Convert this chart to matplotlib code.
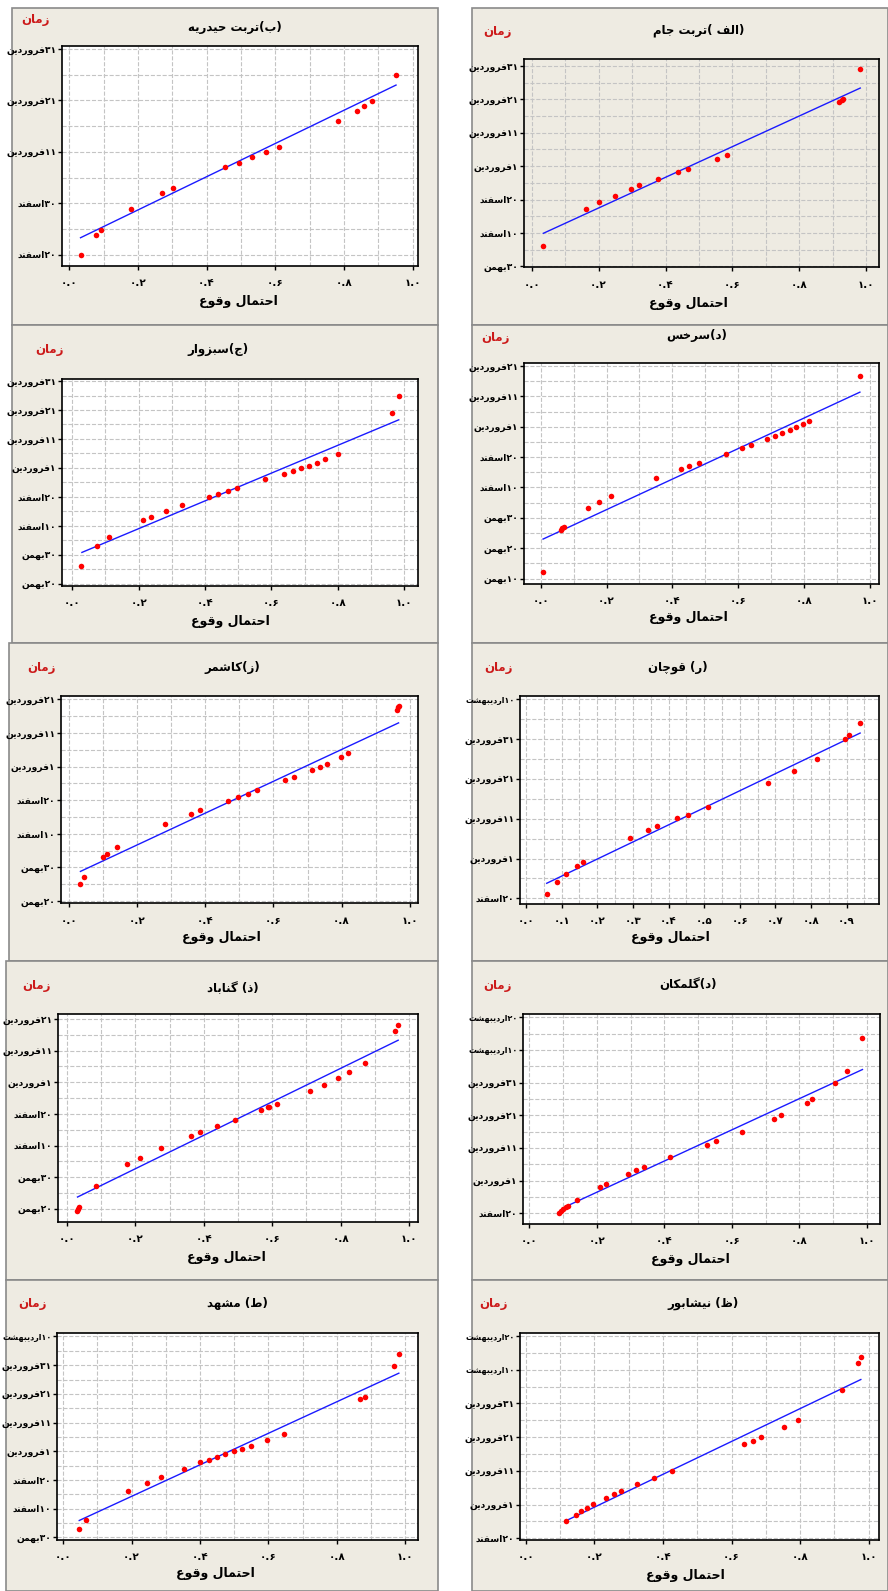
import matplotlib
matplotlib.use('Agg')
import matplotlib.pyplot as plt
from matplotlib import font_manager
from matplotlib.ft2font import FT2Font
from matplotlib.patches import Rectangle

# ---- data: x = احتمال وقوع, y = روز نسبت به ۱ فروردین ----
jam_x = [0.035, 0.161, 0.201, 0.248, 0.296, 0.322, 0.378, 0.436, 0.467, 0.555, 0.584, 0.918, 0.926, 0.931, 0.982]
jam_y = [-23.8, -12.8, -10.8, -8.8, -6.8, -5.7, -3.7, -1.7, -0.8, 2.0, 3.2, 19.2, 19.8, 20.1, 29.1]
jam_fit_x = [0.035, 0.982]
jam_fit_y = [-20.1, 23.4]

heydarieh_x = [0.033, 0.079, 0.094, 0.179, 0.269, 0.301, 0.453, 0.494, 0.533, 0.572, 0.612, 0.784, 0.839, 0.860, 0.883, 0.952]
heydarieh_y = [-10.1, -6.1, -5.1, -1.1, 2.0, 2.9, 7.0, 7.9, 9.0, 10.0, 11.0, 16.0, 18.0, 19.0, 19.9, 25.0]
heydarieh_fit_x = [0.033, 0.952]
heydarieh_fit_y = [-6.7, 23.0]

sarakhs_x = [0.007, 0.060, 0.065, 0.070, 0.144, 0.176, 0.214, 0.350, 0.426, 0.452, 0.480, 0.562, 0.613,
             0.638, 0.688, 0.711, 0.733, 0.756, 0.776, 0.796, 0.815, 0.970]
sarakhs_y = [-47.8, -34.0, -33.3, -32.9, -26.9, -24.9, -22.8, -17.0, -13.8, -13.0, -12.0, -9.0, -6.9,
             -6.1, -4.1, -3.1, -2.0, -1.0, 0.0, 1.0, 1.9, 16.8]
sarakhs_fit_x = [0.007, 0.970]
sarakhs_fit_y = [-37.0, 11.4]

sabzevar_x = [0.027, 0.074, 0.110, 0.214, 0.236, 0.281, 0.332, 0.413, 0.440, 0.469, 0.497, 0.581, 0.637,
              0.664, 0.689, 0.714, 0.738, 0.761, 0.801, 0.965, 0.985]
sabzevar_y = [-33.8, -27.0, -23.9, -18.0, -17.0, -15.0, -12.9, -9.9, -9.1, -8.1, -7.0, -4.0, -2.0,
              -1.0, -0.2, 0.8, 1.8, 2.9, 4.8, 18.9, 24.8]
sabzevar_fit_x = [0.029, 0.984]
sabzevar_fit_y = [-29.2, 16.6]

quchan_x = [0.058, 0.087, 0.112, 0.143, 0.160, 0.291, 0.341, 0.368, 0.425, 0.455, 0.511, 0.679, 0.753,
            0.816, 0.895, 0.908, 0.938]
quchan_y = [-8.8, -5.8, -3.8, -1.8, -0.8, 5.1, 7.1, 8.1, 10.1, 11.0, 13.0, 19.0, 22.1, 25.1, 30.1, 31.1, 34.0]
quchan_fit_x = [0.058, 0.938]
quchan_fit_y = [-6.2, 31.5]

kashmar_x = [0.032, 0.044, 0.099, 0.111, 0.142, 0.283, 0.359, 0.385, 0.468, 0.497, 0.525, 0.553, 0.634,
             0.661, 0.712, 0.736, 0.758, 0.799, 0.819, 0.963, 0.966, 0.969]
kashmar_y = [-34.8, -32.8, -26.9, -26.0, -23.9, -17.0, -14.1, -13.0, -10.1, -9.0, -8.1, -7.0, -4.0,
             -3.2, -1.1, -0.1, 0.8, 2.9, 4.0, 16.8, 17.6, 18.0]
kashmar_fit_x = [0.034, 0.967]
kashmar_fit_y = [-31.2, 13.0]

golmakan_x = [0.089, 0.095, 0.101, 0.107, 0.113, 0.141, 0.209, 0.228, 0.293, 0.317, 0.341, 0.416, 0.525,
              0.552, 0.629, 0.724, 0.746, 0.823, 0.838, 0.907, 0.942, 0.987]
golmakan_y = [-10.0, -9.3, -8.7, -8.2, -7.8, -5.8, -1.9, -0.9, 2.0, 3.1, 4.1, 7.1, 10.9,
              12.1, 14.9, 18.8, 20.0, 23.9, 24.9, 29.9, 33.7, 43.7]
golmakan_fit_x = [0.107, 0.987]
golmakan_fit_y = [-8.0, 34.0]

gonabad_x = [0.029, 0.032, 0.035, 0.086, 0.177, 0.213, 0.274, 0.364, 0.389, 0.439, 0.490, 0.567, 0.589,
             0.592, 0.614, 0.709, 0.751, 0.791, 0.824, 0.871, 0.960, 0.969]
gonabad_y = [-40.8, -40.1, -39.6, -32.7, -25.8, -23.9, -20.8, -16.9, -15.7, -13.9, -11.8, -8.7, -7.8,
             -7.9, -6.8, -2.7, -0.8, 1.3, 3.1, 6.1, 16.1, 18.2]
gonabad_fit_x = [0.031, 0.968]
gonabad_fit_y = [-36.3, 13.3]

neyshabur_x = [0.117, 0.145, 0.160, 0.177, 0.195, 0.234, 0.256, 0.279, 0.325, 0.374, 0.427, 0.637, 0.663,
               0.687, 0.754, 0.794, 0.921, 0.970, 0.978]
neyshabur_y = [-5.0, -3.0, -1.9, -1.0, 0.1, 2.1, 3.2, 4.1, 6.0, 7.9, 9.9, 18.0, 18.9,
               20.0, 23.1, 25.0, 34.1, 41.9, 43.9]
neyshabur_fit_x = [0.117, 0.977]
neyshabur_fit_y = [-4.8, 37.1]

mashhad_x = [0.046, 0.066, 0.190, 0.244, 0.287, 0.352, 0.400, 0.426, 0.449, 0.473, 0.498, 0.524, 0.548,
             0.596, 0.645, 0.867, 0.881, 0.966, 0.981]
mashhad_y = [-27.0, -23.8, -13.9, -10.9, -9.1, -6.0, -3.9, -2.9, -1.9, -0.8, 0.1, 0.9, 2.0,
             3.9, 6.0, 18.1, 19.0, 29.7, 33.8]
mashhad_fit_x = [0.047, 0.981]
mashhad_fit_y = [-24.1, 27.2]

# ---- tick labels ----
lab_a = ['۳۰بهمن', '۱۰اسفند', '۲۰اسفند', '۱فروردین', '۱۱فروردین', '۲۱فروردین', '۳۱فروردین']
lab_b = ['۲۰اسفند', '۳۰اسفند', '۱۱فروردین', '۲۱فروردین', '۳۱فروردین']
lab_c = ['۱۰بهمن', '۲۰بهمن', '۳۰بهمن', '۱۰اسفند', '۲۰اسفند', '۱فروردین', '۱۱فروردین', '۲۱فروردین']
lab_d = ['۲۰بهمن', '۳۰بهمن', '۱۰اسفند', '۲۰اسفند', '۱فروردین', '۱۱فروردین', '۲۱فروردین', '۳۱فروردین']
lab_e = ['۲۰اسفند', '۱فروردین', '۱۱فروردین', '۲۱فروردین', '۳۱فروردین', '۱۰اردیبهشت']
lab_f = ['۲۰بهمن', '۳۰بهمن', '۱۰اسفند', '۲۰اسفند', '۱فروردین', '۱۱فروردین', '۲۱فروردین']
lab_g = ['۲۰اسفند', '۱فروردین', '۱۱فروردین', '۲۱فروردین', '۳۱فروردین', '۱۰اردیبهشت', '۲۰اردیبهشت']
lab_h = ['۳۰بهمن', '۱۰اسفند', '۲۰اسفند', '۱فروردین', '۱۱فروردین', '۲۱فروردین', '۳۱فروردین', '۱۰اردیبهشت']

xt_02 = [0.0, 0.2, 0.4, 0.6, 0.8, 1.0]
xl_02 = ['۰.۰', '۰.۲', '۰.۴', '۰.۶', '۰.۸', '۱.۰']
xt_01 = [0.0, 0.1, 0.2, 0.3, 0.4, 0.5, 0.6, 0.7, 0.8, 0.9]
xl_01 = ['۰.۰', '۰.۱', '۰.۲', '۰.۳', '۰.۴', '۰.۵', '۰.۶', '۰.۷', '۰.۸', '۰.۹']

y_label = 'زمان'
x_label = 'احتمال وقوع'

# ---- simple Persian shaping (matplotlib has no Arabic shaping) ----
FORMS = {
    'ا': ['FE8D', 'FE8E', None, None], 'ب': ['FE8F', 'FE90', 'FE91', 'FE92'],
    'ت': ['FE95', 'FE96', 'FE97', 'FE98'], 'ج': ['FE9D', 'FE9E', 'FE9F', 'FEA0'],
    'چ': ['FB7A', 'FB7B', 'FB7C', 'FB7D'], 'ح': ['FEA1', 'FEA2', 'FEA3', 'FEA4'],
    'خ': ['FEA5', 'FEA6', 'FEA7', 'FEA8'], 'د': ['FEA9', 'FEAA', None, None],
    'ذ': ['FEAB', 'FEAC', None, None], 'ر': ['FEAD', 'FEAE', None, None],
    'ز': ['FEAF', 'FEB0', None, None], 'س': ['FEB1', 'FEB2', 'FEB3', 'FEB4'],
    'ش': ['FEB5', 'FEB6', 'FEB7', 'FEB8'], 'ط': ['FEC1', 'FEC2', 'FEC3', 'FEC4'],
    'ظ': ['FEC5', 'FEC6', 'FEC7', 'FEC8'], 'ع': ['FEC9', 'FECA', 'FECB', 'FECC'],
    'ف': ['FED1', 'FED2', 'FED3', 'FED4'], 'ق': ['FED5', 'FED6', 'FED7', 'FED8'],
    'ک': ['FB8E', 'FB8F', 'FB90', 'FB91'], 'گ': ['FB92', 'FB93', 'FB94', 'FB95'],
    'ل': ['FEDD', 'FEDE', 'FEDF', 'FEE0'], 'م': ['FEE1', 'FEE2', 'FEE3', 'FEE4'],
    'ن': ['FEE5', 'FEE6', 'FEE7', 'FEE8'], 'ه': ['FEE9', 'FEEA', 'FEEB', 'FEEC'],
    'و': ['FEED', 'FEEE', None, None], 'ی': ['FBFC', 'FBFD', 'FBFE', 'FBFF'],
}
FALLBACK = {'چ': ['FE9D', 'FE9E', 'FE9F', 'FEA0'], 'ک': ['FED9', 'FEDA', 'FEDB', 'FEDC'],
            'گ': ['FED9', 'FEDA', 'FEDB', 'FEDC'], 'ی': ['FEEF', 'FEF0', 'FEF3', 'FEF4']}

WEIGHT = 'bold'
path = font_manager.findfont(font_manager.FontProperties(family='DejaVu Sans', weight='bold'))
cmap = FT2Font(path).get_charmap()
if 0xFED3 not in cmap:
    WEIGHT = 'normal'
    path = font_manager.findfont(font_manager.FontProperties(family='DejaVu Sans'))
    cmap = FT2Font(path).get_charmap()
for k, v in FALLBACK.items():
    if any(int(c, 16) not in cmap for c in FORMS[k]):
        FORMS[k] = v
DIGITS = '۰۱۲۳۴۵۶۷۸۹'
if ord('۰') not in cmap:
    DIGITS = '٠١٢٣٤٥٦٧٨٩' if 0x0660 in cmap else '0123456789'


def fa(s):
    s = ''.join(DIGITS['۰۱۲۳۴۵۶۷۸۹'.index(c)] if c in '۰۱۲۳۴۵۶۷۸۹' else c for c in s)
    out = []
    for i, c in enumerate(s):
        if c not in FORMS:
            out.append(c)
            continue
        prev = s[i - 1] if i > 0 else None
        nxt = s[i + 1] if i + 1 < len(s) else None
        jp = prev in FORMS and FORMS[prev][2] is not None
        jn = FORMS[c][2] is not None and nxt in FORMS
        f = FORMS[c]
        code = f[3] if (jp and jn) else f[1] if jp else f[2] if jn else f[0]
        out.append(chr(int(code, 16)))
    tokens = []
    for c in out:
        isnum = c in DIGITS or c == '.'
        if isnum and tokens and (tokens[-1][0] in DIGITS):
            tokens[-1] += c
        else:
            tokens.append(c)
    mirror = {'(': ')', ')': '('}
    return ''.join(mirror.get(t, t) for t in reversed(tokens))


# ---- layout (pixels) ----
W, H = 888, 1591
BEIGE = '#eeebe2'
panels = [
    dict(title='(الف )تربت جام', x=jam_x, y=jam_y, fx=jam_fit_x, fy=jam_fit_y, yt=range(-30, 31, 10), yl=lab_a,
         xt=xt_02, xl=xl_02, frame=(472, 888, 8, 325), box=(524, 879, 59, 267), xlim=(-0.023, 1.038),
         ylim=(-30.2, 32.1), tpos=(699, 30), zpos=(497, 32), lpos=(688, 303), face=BEIGE),
    dict(title='(ب)تربت حیدریه', x=heydarieh_x, y=heydarieh_y, fx=heydarieh_fit_x, fy=heydarieh_fit_y,
         yt=range(-10, 31, 10), yl=lab_b, xt=xt_02, xl=xl_02, frame=(12, 438, 8, 325), box=(62, 418, 46, 266),
         xlim=(-0.021, 1.016), ylim=(-12.2, 30.6), tpos=(235, 27), zpos=(35, 19), lpos=(238, 301), face='white'),
    dict(title='(د)سرخس', x=sarakhs_x, y=sarakhs_y, fx=sarakhs_fit_x, fy=sarakhs_fit_y, yt=range(-50, 21, 10),
         yl=lab_c, xt=xt_02, xl=xl_02, frame=(472, 888, 325, 643), box=(524, 879, 363, 584),
         xlim=(-0.051, 1.028), ylim=(-51.8, 21.0), tpos=(697, 335), zpos=(496, 337), lpos=(688, 618), face='white'),
    dict(title='(ج)سبزوار', x=sabzevar_x, y=sabzevar_y, fx=sabzevar_fit_x, fy=sabzevar_fit_y,
         yt=range(-40, 31, 10), yl=lab_d, xt=xt_02, xl=xl_02, frame=(12, 438, 325, 643), box=(62, 418, 379, 586),
         xlim=(-0.031, 1.042), ylim=(-40.8, 30.7), tpos=(218, 349), zpos=(49, 350), lpos=(230, 621), face='white'),
    dict(title='(ر) قوچان', x=quchan_x, y=quchan_y, fx=quchan_fit_x, fy=quchan_fit_y, yt=range(-10, 41, 10),
         yl=lab_e, xt=xt_01, xl=xl_01, frame=(472, 888, 643, 961), box=(520, 879, 696, 904),
         xlim=(-0.017, 0.991), ylim=(-11.4, 40.8), tpos=(678, 667), zpos=(498, 668), lpos=(670, 938), face='white'),
    dict(title='(ز)کاشمر', x=kashmar_x, y=kashmar_y, fx=kashmar_fit_x, fy=kashmar_fit_y, yt=range(-40, 21, 10),
         yl=lab_f, xt=xt_02, xl=xl_02, frame=(9, 438, 643, 961), box=(61, 418, 696, 903),
         xlim=(-0.023, 1.024), ylim=(-40.6, 21.0), tpos=(232, 667), zpos=(41, 668), lpos=(221, 938), face='white'),
    dict(title='(د)گلمکان', x=golmakan_x, y=golmakan_y, fx=golmakan_fit_x, fy=golmakan_fit_y,
         yt=range(-10, 51, 10), yl=lab_g, xt=xt_02, xl=xl_02, frame=(472, 888, 961, 1280), box=(523, 880, 1014, 1224),
         xlim=(-0.019, 1.039), ylim=(-13.3, 51.0), tpos=(688, 984), zpos=(497, 986), lpos=(690, 1260), face='white'),
    dict(title='(ذ) گناباد', x=gonabad_x, y=gonabad_y, fx=gonabad_fit_x, fy=gonabad_fit_y, yt=range(-40, 21, 10),
         yl=lab_f, xt=xt_02, xl=xl_02, frame=(6, 438, 961, 1280), box=(58, 418, 1014, 1222),
         xlim=(-0.026, 1.026), ylim=(-44.2, 21.6), tpos=(233, 989), zpos=(36, 986), lpos=(226, 1258), face='white'),
    dict(title='(ظ) نیشابور', x=neyshabur_x, y=neyshabur_y, fx=neyshabur_fit_x, fy=neyshabur_fit_y,
         yt=range(-10, 51, 10), yl=lab_g, xt=xt_02, xl=xl_02, frame=(472, 888, 1280, 1591), box=(520, 879, 1333, 1540),
         xlim=(-0.017, 1.030), ylim=(-10.5, 50.9), tpos=(703, 1303), zpos=(493, 1304), lpos=(685, 1575), face='white'),
    dict(title='(ط) مشهد', x=mashhad_x, y=mashhad_y, fx=mashhad_fit_x, fy=mashhad_fit_y, yt=range(-30, 41, 10),
         yl=lab_h, xt=xt_02, xl=xl_02, frame=(6, 438, 1280, 1591), box=(57, 418, 1333, 1540),
         xlim=(-0.018, 1.037), ylim=(-30.9, 41.2), tpos=(237, 1303), zpos=(32, 1304), lpos=(215, 1574), face='white'),
]

plt.rcParams['font.family'] = ['DejaVu Sans']
fig = plt.figure(figsize=(W / 100, H / 100), dpi=100)
fig.patch.set_facecolor('white')

for p in panels:
    x0, x1, y0, y1 = p['frame']
    fig.add_artist(Rectangle((x0 / W, 1 - y1 / H), (x1 - x0) / W, (y1 - y0) / H, transform=fig.transFigure,
                             facecolor=BEIGE, edgecolor='#8a8a8a', lw=1.2, zorder=-5))
    l, r, t, b = p['box']
    ax = fig.add_axes([l / W, 1 - b / H, (r - l) / W, (b - t) / H])
    ax.set_facecolor(p['face'])

    step = p['xt'][1] - p['xt'][0]
    minor_x = [v + step / 2 for v in p['xt']]
    yt = list(p['yt'])
    minor_y = [v + 5 for v in yt]
    ax.set_xticks(p['xt'])
    ax.set_xticks(minor_x, minor=True)
    ax.set_yticks(yt)
    ax.set_yticks(minor_y, minor=True)
    ax.set_xticklabels([fa(s) for s in p['xl']], fontsize=7.5, fontweight=WEIGHT)
    ax.set_yticklabels([fa(s) for s in p['yl']], fontsize=6.6, fontweight=WEIGHT)
    for lab, raw in zip(ax.get_yticklabels(), p['yl']):
        if 'اردیبهشت' in raw:
            lab.set_fontsize(5.8)
    ax.tick_params(which='major', direction='out', length=3, width=1, pad=1)
    ax.tick_params(axis='x', which='major', pad=6)
    ax.tick_params(which='minor', length=0)
    ax.grid(which='both', ls='--', color='#c4c4c4', lw=0.8)
    ax.set_axisbelow(True)
    for s in ax.spines.values():
        s.set_linewidth(1.2)
        s.set_color('black')

    ax.plot(p['fx'], p['fy'], color='#1a1aff', lw=1.0, zorder=3)
    ax.scatter(p['x'], p['y'], s=16, color='#ff0000', lw=0, zorder=4)
    ax.set_xlim(*p['xlim'])
    ax.set_ylim(*p['ylim'])

    fig.text(p['tpos'][0] / W, 1 - p['tpos'][1] / H, fa(p['title']), ha='center', va='center',
             fontsize=8.5, fontweight=WEIGHT)
    fig.text(p['zpos'][0] / W, 1 - p['zpos'][1] / H, fa(y_label), ha='center', va='center',
             fontsize=8.5, fontweight=WEIGHT, color='#cc1a1a')
    fig.text(p['lpos'][0] / W, 1 - p['lpos'][1] / H, fa(x_label), ha='center', va='center',
             fontsize=9, fontweight=WEIGHT)

fig.savefig('out.png', dpi=100)
